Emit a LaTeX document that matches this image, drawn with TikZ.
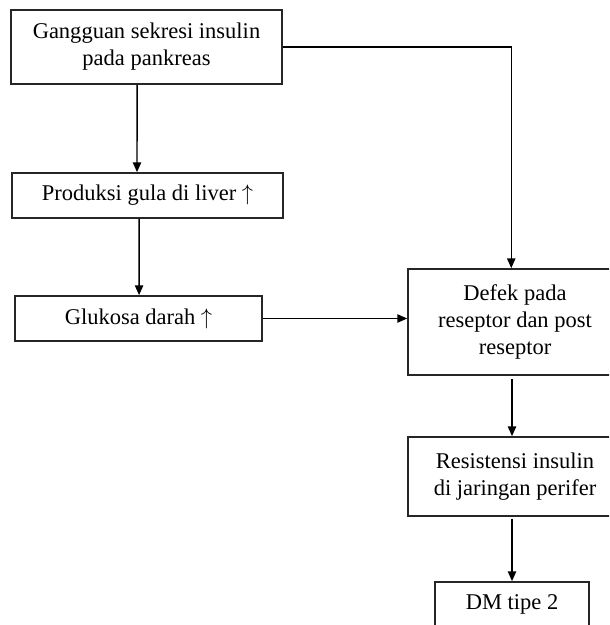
\documentclass[tikz,border=0pt]{standalone}
\usepackage{fontspec}
\setmainfont{Liberation Serif}
\usetikzlibrary{arrows.meta}
\tikzset{
	every node/.style = {font=\fontsize{12}{14.4}\selectfont},
	box/.style = {draw=black!85, line width=0.9pt, align=center, inner sep=0pt},
	flow/.style = {draw=black, line width=0.75pt, -{Triangle[length=5.2pt, width=4.4pt]}}
}

\begin{document}
\begin{tikzpicture}[x=0.5333pt, y=-0.5333pt]
		\useasboundingbox (0,0) rectangle (609,625);
		\clip (0,0) rectangle (609,625);
		
		% left column
		\node[box, minimum width=144.5pt, minimum height=39.5pt] (sekresi) at (146.5,47) {Gangguan sekresi insulin\\pada pankreas};
		\node[box, minimum width=144.5pt, minimum height=24pt] (produksi) at (147.5,195.5) {Produksi gula di liver $\uparrow$};
		\node[box, minimum width=131.7pt, minimum height=24pt] (glukosa) at (138.5,318.5) {Glukosa darah $\uparrow$};
		
		% right column (cut at the border)
		\node[box, minimum width=114.1pt, minimum height=56.5pt] (defek) at (515,322) {Defek pada\\reseptor dan post\\reseptor};
		\node[box, minimum width=114.1pt, minimum height=42.1pt] (resistensi) at (515,476.5) {Resistensi insulin\\di jaringan perifer};
		\node[box, minimum width=82.1pt, minimum height=24pt] (dm) at (512,604.5) {DM tipe 2};
		
		% arrows
		\draw[flow] ([xshift=-5pt]sekresi.south) -- ([xshift=-5.6pt]produksi.north);
		\draw[flow] ([xshift=-4.5pt]produksi.south) -- ([xshift=0.3pt]glukosa.north);
		\draw[flow] (sekresi.east) -| ([xshift=-2pt]defek.north);
		\draw[flow] (glukosa.east) -- (glukosa.east -| defek.west);
		\draw[flow] ([xshift=-1.6pt, yshift=-1.5pt]defek.south) -- ([xshift=-1.6pt]resistensi.north);
		\draw[flow] ([yshift=-1pt]resistensi.south -| dm.north) -- (dm.north);
	\end{tikzpicture}
\end{document}
